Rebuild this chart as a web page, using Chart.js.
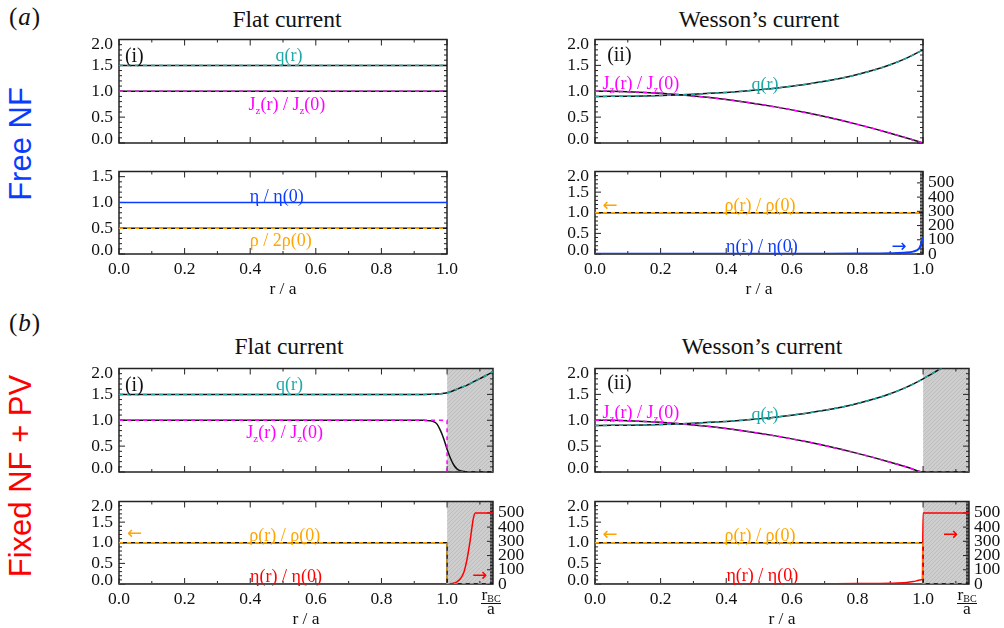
<!DOCTYPE html>
<html>
<head>
<meta charset="utf-8">
<script src="https://cdn.jsdelivr.net/npm/chart.js@4.4.1/dist/chart.umd.min.js"></script>
<style>
  html, body { margin: 0; padding: 0; background: #fff; width: 1004px; height: 628px; overflow: hidden; position: relative; }
  canvas { position: absolute; }
  .lbl { position: absolute; white-space: nowrap; line-height: 1; font-family: 'Liberation Serif', 'Times New Roman', serif; color: #111; }
  .ttl { font-size: 23.5px; transform: translateX(-50%); }
  .tag { font-size: 25px; letter-spacing: 1px; }
  .row { position: absolute; white-space: nowrap; line-height: 1; font-family: 'Liberation Sans', Arial, sans-serif; font-size: 31px; transform: translate(-50%, -50%) rotate(-90deg); }
</style>
</head>
<body>
<div class="lbl tag" style="left:9px;top:3.5px">(<i>a</i>)</div>
<div class="lbl tag" style="left:9px;top:309.5px">(<i>b</i>)</div>
<div class="row" style="left:20px;top:143.5px;color:#0a3cff">Free NF</div>
<div class="row" style="left:20px;top:475.5px;color:#ff0000">Fixed NF + PV</div>
<div class="lbl ttl" style="left:287px;top:7.6px">Flat current</div>
<div class="lbl ttl" style="left:759px;top:7.6px">Wesson’s current</div>
<div class="lbl ttl" style="left:289px;top:335.3px">Flat current</div>
<div class="lbl ttl" style="left:762px;top:335.3px">Wesson’s current</div>

<script>
const SERIF = "'Liberation Serif','Times New Roman','DejaVu Serif',serif";
const ARROW_FONT = "'DejaVu Sans','Liberation Sans',sans-serif";
Chart.defaults.font.family = SERIF;
Chart.defaults.color = '#111';

// ---- radial positions (r / a) ----
const rWall = 1.0;          // plasma edge
const rBC = 1.14;           // boundary-condition radius r_BC / a
const xTicksNorm = [0, 0.2, 0.4, 0.6, 0.8, 1.0];

// ---- flat current, free no-flux ----
const rFlat = [0, 1];
const qFlat = [1.5, 1.5];
const jFlat = [1, 1];
const etaFlat = [1, 1];
const rhoHalfFlat = [0.5, 0.5];
const rhoUnit = [1, 1];

// ---- Wesson's current ----
const rW = [0, 0.05, 0.1, 0.15, 0.2, 0.25, 0.3, 0.35, 0.4, 0.45, 0.5, 0.55, 0.6, 0.65, 0.7, 0.75, 0.8, 0.85, 0.9, 0.95, 1.0];
const jW = [1.0, 0.998, 0.99, 0.978, 0.96, 0.938, 0.91, 0.878, 0.84, 0.798, 0.75, 0.698, 0.64, 0.578, 0.51, 0.438, 0.36, 0.278, 0.19, 0.098, 0.0];
const qW = [0.90, 0.901, 0.905, 0.910, 0.918, 0.929, 0.942, 0.959, 0.978, 1.001, 1.029, 1.060, 1.098, 1.141, 1.192, 1.252, 1.324, 1.409, 1.513, 1.640, 1.80];
const rEtaW = [0, 0.1, 0.2, 0.3, 0.4, 0.5, 0.6, 0.7, 0.8, 0.9, 0.95, 0.97, 0.98, 0.99, 1.0];
const etaW = [1.0, 1.01, 1.04, 1.10, 1.19, 1.33, 1.56, 1.96, 2.78, 5.3, 10.3, 16.9, 25, 45, 110];

// ---- fixed NF + PV ----
const rStep = [0, 1.0, 1.0, 1.14];
const stepProfile = [1, 1, 0, 0];
const rSmooth = [0, 0.5, 0.9, 0.93, 0.95, 0.96, 0.97, 0.98, 0.99, 1.0, 1.01, 1.02, 1.03, 1.04, 1.06, 1.08, 1.10, 1.12, 1.14];
const jSmooth = [1, 1, 1, 0.998, 0.99, 0.97, 0.92, 0.80, 0.64, 0.44, 0.27, 0.14, 0.06, 0.025, 0.005, 0, 0, 0, 0];
const qSmooth = [1.5, 1.5, 1.5, 1.5, 1.501, 1.503, 1.507, 1.513, 1.52, 1.53, 1.55, 1.575, 1.60, 1.625, 1.675, 1.74, 1.805, 1.87, 1.94];
const rEtaFlatPV = [0, 0.5, 1.0, 1.02, 1.03, 1.04, 1.05, 1.06, 1.07, 1.08, 1.086, 1.14];
const etaFlatPV = [1, 1, 1, 6, 15, 35, 75, 165, 300, 460, 500, 500];
const rVac = [1.02, 1.04, 1.06, 1.10, 1.14];
const qWVac = [1.873, 1.947, 2.022, 2.178, 2.339];
const jWVac = [0, 0, 0, 0, 0];
const rEtaWPV = [0, 0.1, 0.2, 0.3, 0.4, 0.5, 0.6, 0.7, 0.8, 0.9, 0.95, 0.97, 0.98, 0.99, 0.998, 1.0, 1.14];
const etaWPV = [1.0, 1.01, 1.04, 1.10, 1.19, 1.33, 1.56, 1.96, 2.78, 5.3, 10.3, 16.9, 22, 28, 32, 500, 500];

// ---- styling ----
const C = { q: '#1fa8a6', j: '#ff00ff', etaFree: '#0a3cff', rho: '#ffa500', etaPV: '#ff0000', ink: '#111' };

function makeHatch() {
  const c = document.createElement('canvas');
  c.width = 4; c.height = 4;
  const g = c.getContext('2d');
  g.fillStyle = '#cecece'; g.fillRect(0, 0, 4, 4);
  g.strokeStyle = '#b9b9b9'; g.lineWidth = 0.8;
  g.beginPath();
  g.moveTo(0, 4); g.lineTo(4, 0);
  g.moveTo(-1, 1); g.lineTo(1, -1);
  g.moveTo(3, 5); g.lineTo(5, 3);
  g.stroke();
  return g.createPattern(c, 'repeat');
}
const hatch = makeHatch();

const pts = (xs, ys) => xs.map((x, i) => ({ x, y: ys[i] }));
const smooth = { cubicInterpolationMode: 'monotone' };
function solid(xs, ys, color, extra) {
  return Object.assign({ data: pts(xs, ys), borderColor: color, borderWidth: 1.5, pointRadius: 0, fill: false, order: 5 }, extra || {});
}
function dashed(xs, ys, color, extra) {
  return solid(xs, ys, color, Object.assign({ borderDash: [4, 4], order: 1 }, extra || {}));
}
function vacuum(yMax) {
  return { vacuum: true, data: pts([rWall, rBC], [yMax, yMax]), borderWidth: 0, pointRadius: 0, fill: 'origin', backgroundColor: hatch, order: 9 };
}

const panels = [
  { // (a)(i) top
    frame: [119, 35, 328, 120], xMax: 1, yMax: 2,
    datasets: [solid(rFlat, qFlat, C.ink), dashed(rFlat, qFlat, C.q), solid(rFlat, jFlat, C.ink), dashed(rFlat, jFlat, C.j)],
    notes: [
      { t: '(i)', x: 0.018, y: 1.69, c: C.ink, align: 'left', size: 20 },
      { t: 'q(r)', x: 0.518, y: 1.70, c: C.q },
      { t: 'J_{z}(r) / J_{z}(0)', x: 0.512, y: 0.75, c: C.j }
    ]
  },
  { // (a)(i) bottom
    frame: [119, 167, 328, 87], xMax: 1, yMax: 1.6, showX: true,
    datasets: [solid(rFlat, etaFlat, C.etaFree, { order: 3 }), solid(rFlat, rhoHalfFlat, C.ink), dashed(rFlat, rhoHalfFlat, C.rho)],
    notes: [
      { t: 'η / η(0)', x: 0.481, y: 1.13, c: C.etaFree },
      { t: 'ρ / 2ρ(0)', x: 0.493, y: 0.27, c: C.rho }
    ]
  },
  { // (a)(ii) top
    frame: [595, 35, 328, 120], xMax: 1, yMax: 2,
    datasets: [solid(rW, qW, C.ink, smooth), dashed(rW, qW, C.q, smooth), solid(rW, jW, C.ink, smooth), dashed(rW, jW, C.j, smooth)],
    notes: [
      { t: '(ii)', x: 0.037, y: 1.72, c: C.ink, align: 'left', size: 20 },
      { t: 'J_{z}(r) / J_{z}(0)', x: 0.14, y: 1.15, c: C.j },
      { t: 'q(r)', x: 0.518, y: 1.13, c: C.q }
    ]
  },
  { // (a)(ii) bottom
    frame: [595, 167, 328, 87], xMax: 1, yMax: 2, y2Max: 580, showX: true,
    datasets: [solid(rFlat, rhoUnit, C.ink), dashed(rFlat, rhoUnit, C.rho), solid(rEtaW, etaW, C.etaFree, Object.assign({ yAxisID: 'y2', order: 3, borderWidth: 2 }, smooth))],
    notes: [
      { t: '←', x: 0.046, y: 1.19, c: C.rho, font: ARROW_FONT },
      { t: 'ρ(r) / ρ(0)', x: 0.503, y: 1.18, c: C.rho },
      { t: 'η(r) / η(0)', x: 0.509, y: 0.20, c: C.etaFree },
      { t: '→', x: 0.927, y: 0.195, c: C.etaFree, font: ARROW_FONT }
    ]
  },
  { // (b)(i) top
    frame: [119, 364, 374, 120], xMax: rBC, yMax: 2,
    datasets: [vacuum(2), solid(rSmooth, qSmooth, C.ink, smooth), dashed(rSmooth, qSmooth, C.q, smooth), solid(rSmooth, jSmooth, C.ink, smooth), dashed(rStep, stepProfile, C.j)],
    notes: [
      { t: '(i)', x: 0.018, y: 1.69, c: C.ink, align: 'left', size: 20 },
      { t: 'q(r)', x: 0.52, y: 1.69, c: C.q },
      { t: 'J_{z}(r) / J_{z}(0)', x: 0.505, y: 0.77, c: C.j }
    ]
  },
  { // (b)(i) bottom
    frame: [119, 497, 374, 87], xMax: rBC, yMax: 2, y2Max: 580, showX: true, frac: true,
    datasets: [vacuum(2), solid(rStep, stepProfile, C.ink), dashed(rStep, stepProfile, C.rho), solid(rEtaFlatPV, etaFlatPV, C.etaPV, Object.assign({ yAxisID: 'y2', order: 3 }, smooth))],
    notes: [
      { t: '←', x: 0.047, y: 1.23, c: C.rho, font: ARROW_FONT },
      { t: 'ρ(r) / ρ(0)', x: 0.505, y: 1.19, c: C.rho },
      { t: 'η(r) / η(0)', x: 0.509, y: 0.195, c: C.etaPV },
      { t: '→', x: 1.10, y: 0.21, c: C.etaPV, font: ARROW_FONT }
    ]
  },
  { // (b)(ii) top
    frame: [595, 364, 374, 120], xMax: rBC, yMax: 2,
    datasets: [vacuum(2),
      solid(rW.concat(rVac), qW.concat(qWVac), C.ink, smooth), dashed(rW.concat(rVac), qW.concat(qWVac), C.q, smooth),
      solid(rW.concat(rVac), jW.concat(jWVac), C.ink, smooth), dashed(rW.concat(rVac), jW.concat(jWVac), C.j, smooth)],
    notes: [
      { t: '(ii)', x: 0.037, y: 1.73, c: C.ink, align: 'left', size: 20 },
      { t: 'J_{z}(r) / J_{z}(0)', x: 0.14, y: 1.15, c: C.j },
      { t: 'q(r)', x: 0.518, y: 1.12, c: C.q }
    ]
  },
  { // (b)(ii) bottom
    frame: [595, 497, 374, 87], xMax: rBC, yMax: 2, y2Max: 580, showX: true, frac: true,
    datasets: [vacuum(2), solid(rStep, stepProfile, C.ink), dashed(rStep, stepProfile, C.rho), solid(rEtaWPV, etaWPV, C.etaPV, Object.assign({ yAxisID: 'y2', order: 3 }, smooth))],
    notes: [
      { t: '←', x: 0.046, y: 1.21, c: C.rho, font: ARROW_FONT },
      { t: 'ρ(r) / ρ(0)', x: 0.503, y: 1.19, c: C.rho },
      { t: 'η(r) / η(0)', x: 0.51, y: 0.22, c: C.etaPV },
      { t: '→', x: 1.084, y: 1.21, c: C.etaPV, font: ARROW_FONT }
    ]
  }
];

// box with inward major/minor ticks on every side
function drawFrame(chart) {
  const { ctx, chartArea: a, scales: s } = chart;
  ctx.save();
  ctx.strokeStyle = '#222';
  ctx.lineWidth = 1;
  ctx.beginPath();
  const run = (scale, step, every, draw) => {
    const n = Math.floor((scale.max - scale.min) / step + 1e-6);
    for (let i = 0; i <= n; i++) draw(scale.getPixelForValue(scale.min + i * step), i % every === 0 ? 6 : 3);
  };
  run(s.x, 0.1, 2, (p, l) => { ctx.moveTo(p, a.bottom); ctx.lineTo(p, a.bottom - l); ctx.moveTo(p, a.top); ctx.lineTo(p, a.top + l); });
  run(s.y, 0.1, 5, (p, l) => {
    ctx.moveTo(a.left, p); ctx.lineTo(a.left + l, p);
    if (!s.y2) { ctx.moveTo(a.right, p); ctx.lineTo(a.right - l, p); }
  });
  if (s.y2) run(s.y2, 10, 10, (p, l) => { ctx.moveTo(a.right, p); ctx.lineTo(a.right - l, p); });
  ctx.stroke();
  ctx.lineWidth = 1.5;
  ctx.strokeRect(a.left, a.top, a.right - a.left, a.bottom - a.top);
  ctx.restore();
}

// text with _{...} subscripts
function drawRich(ctx, text, x, y, size, color, align, family) {
  const fam = family || SERIF;
  const parts = [];
  const re = /_\{([^}]*)\}/g;
  let last = 0, m;
  while ((m = re.exec(text))) {
    if (m.index > last) parts.push({ s: text.slice(last, m.index) });
    parts.push({ s: m[1], sub: true });
    last = re.lastIndex;
  }
  if (last < text.length) parts.push({ s: text.slice(last) });
  const fMain = size + 'px ' + fam;
  const fSub = Math.round(size * 0.62) + 'px ' + fam;
  let w = 0;
  parts.forEach(p => { ctx.font = p.sub ? fSub : fMain; p.w = ctx.measureText(p.s).width; w += p.w; });
  let cx = align === 'left' ? x : x - w / 2;
  const base = y + size * 0.33;
  ctx.fillStyle = color;
  ctx.textAlign = 'left';
  ctx.textBaseline = 'alphabetic';
  parts.forEach(p => {
    ctx.font = p.sub ? fSub : fMain;
    ctx.fillText(p.s, cx, p.sub ? base + size * 0.22 : base);
    cx += p.w;
  });
}

// r_BC / a written as a stacked fraction under the last x position
function drawFraction(ctx, cx, top) {
  ctx.save();
  ctx.fillStyle = C.ink;
  ctx.textBaseline = 'alphabetic';
  ctx.textAlign = 'left';
  const fr = '17.5px ' + SERIF, fs = '10px ' + SERIF;
  ctx.font = fr; const wr = ctx.measureText('r').width;
  ctx.font = fs; const wbc = ctx.measureText('BC').width;
  const x0 = cx - (wr + wbc) / 2;
  ctx.font = fr; ctx.fillText('r', x0, top + 16);
  ctx.font = fs; ctx.fillText('BC', x0 + wr, top + 18);
  ctx.strokeStyle = C.ink; ctx.lineWidth = 1;
  ctx.beginPath(); ctx.moveTo(cx - 10, top + 19.5); ctx.lineTo(cx + 10, top + 19.5); ctx.stroke();
  ctx.font = fr; ctx.textAlign = 'center'; ctx.fillText('a', cx, top + 30);
  ctx.restore();
}

const framePlugin = {
  id: 'frame',
  beforeDraw(chart) {
    // end labels of the left axis sit just inside the box
    const sc = chart.scales.y;
    const items = sc.getLabelItems(chart.chartArea);
    const tks = sc.ticks;
    items.forEach((it, i) => {
      const v = tks[i] && tks[i].value;
      if (v === undefined) return;
      if (Math.abs(v - sc.max) < 1e-9) it.options.translation[1] += 5;
      else if (Math.abs(v - sc.min) < 1e-9) it.options.translation[1] -= 4;
    });
  },
  beforeDatasetsDraw(chart) {
    if (!chart.data.datasets.some(d => d.vacuum)) drawFrame(chart);
  },
  afterDatasetDraw(chart, args) {
    if (chart.data.datasets[args.index].vacuum) drawFrame(chart);
  },
  afterDraw(chart) {
    const { ctx, scales: s, chartArea: a } = chart;
    const cfg = chart.options.plugins.frame || {};
    ctx.save();
    (cfg.notes || []).forEach(n => {
      drawRich(ctx, n.t, s.x.getPixelForValue(n.x), s.y.getPixelForValue(n.y), n.size || 18, n.c, n.align, n.font);
    });
    ctx.restore();
    if (cfg.frac) drawFraction(ctx, s.x.getPixelForValue(rBC) - 2, a.bottom);
  }
};

const tickFont = { size: 17.5 };

panels.forEach(p => {
  const [fl, ft, fw, fh] = p.frame;
  const rightW = p.y2Max ? 35 : 25;
  const bottomH = p.showX ? 46 : 12;
  const cv = document.createElement('canvas');
  cv.width = 60 + fw + rightW;
  cv.height = 12 + fh + bottomH;
  cv.style.left = (fl - 60) + 'px';
  cv.style.top = (ft - 12) + 'px';
  document.body.appendChild(cv);

  const scales = {
    x: {
      type: 'linear', min: 0, max: p.xMax, display: !!p.showX,
      grid: { display: false, drawTicks: false }, border: { display: false },
      afterBuildTicks: sc => { sc.ticks = xTicksNorm.map(v => ({ value: v })); },
      afterFit: sc => { sc.height = bottomH; },
      ticks: { autoSkip: false, maxRotation: 0, padding: 5, font: tickFont, color: C.ink, callback: v => Number(v).toFixed(1) },
      title: { display: true, text: 'r / a', font: { size: 17.5 }, color: C.ink, padding: 0 }
    },
    y: {
      type: 'linear', position: 'left', min: 0, max: p.yMax,
      grid: { display: false, drawTicks: false }, border: { display: false },
      afterFit: sc => { sc.width = 60; },
      ticks: { stepSize: 0.5, includeBounds: false, autoSkip: false, padding: 6, font: tickFont, color: C.ink, callback: v => Number(v).toFixed(1) }
    }
  };
  if (p.y2Max) {
    scales.y2 = {
      type: 'linear', position: 'right', min: 0, max: p.y2Max,
      grid: { display: false, drawTicks: false }, border: { display: false },
      afterFit: sc => { sc.width = rightW; },
      ticks: { stepSize: 100, includeBounds: false, autoSkip: false, padding: 5, font: tickFont, color: C.ink, callback: v => String(v) }
    };
  }

  new Chart(cv, {
    type: 'line',
    data: { datasets: p.datasets },
    plugins: [framePlugin],
    options: {
      responsive: false, animation: false, devicePixelRatio: 1,
      layout: { autoPadding: false, padding: { top: 12, left: 0, right: p.y2Max ? 0 : rightW, bottom: p.showX ? 0 : 12 } },
      plugins: {
        legend: { display: false }, tooltip: { enabled: false },
        frame: { notes: p.notes, frac: !!p.frac }
      },
      scales
    }
  });
});
</script>
</body>
</html>
